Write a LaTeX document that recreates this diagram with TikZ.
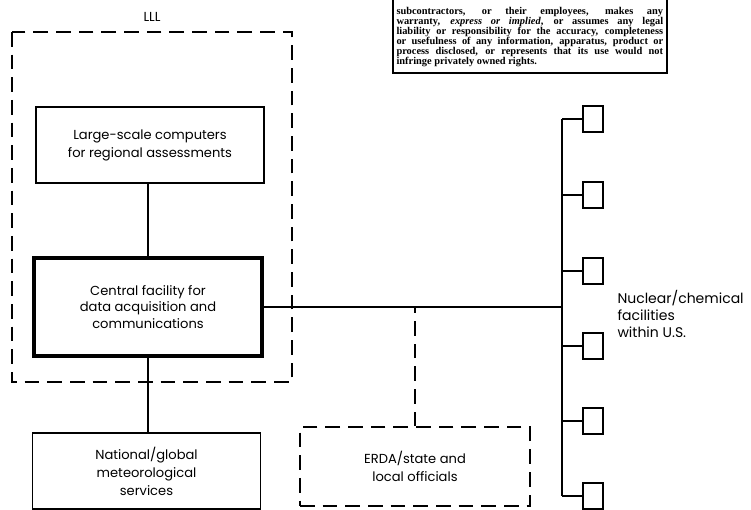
\documentclass[tikz,border=0pt]{standalone}
\usepackage{fontspec}
\setmainfont{Poppins}
\newfontfamily\noticefont{Liberation Serif}

\tikzset{every picture/.style={line width=0.75pt}}
\tikzset{
  unitbox/.style={draw, line width=1.4pt, minimum width=171pt, minimum height=57pt, align=center, font=\fontsize{9.8}{13.5}\selectfont, inner sep=0pt},
  centerbox/.style={unitbox, line width=2.4pt, minimum height=73.5pt, font=\fontsize{9.8}{12.3}\selectfont},
  dashbox/.style={unitbox, dash pattern=on 11pt off 6pt},
  sitebox/.style={draw, line width=1.4pt, minimum width=15pt, minimum height=19.5pt, inner sep=0pt},
  link/.style={line width=1.1pt},
  dashlink/.style={line width=1.3pt, dash pattern=on 11pt off 6pt},
  lbl/.style={font=\fontsize{10.5}{13}\selectfont, inner sep=0pt}
}

\begin{document}
\begin{tikzpicture}[x=0.75pt,y=0.75pt,yscale=-1,xscale=1]
	\useasboundingbox (0,0) rectangle (751,510);

	%Shape: Rectangle [notice, cut at the top]
	\draw [line width=1.5pt] (393,-10) -- (393,73) -- (667,73) -- (667,-10) ;
	% Text Node
	\node (notice) [anchor=north west, inner sep=0pt, text width=200pt, align=justify, font=\noticefont\fontsize{7.8}{7.5}\selectfont\bfseries] at (396,7)
	  {subcontractors, or their employees, makes any\linebreak
	   warranty, \textit{express or implied}, or assumes any legal\linebreak
	   liability or responsibility for the accuracy, completeness\linebreak
	   or usefulness of any information, apparatus, product or\linebreak
	   process disclosed, or represents that its use would not\linebreak
	   infringe privately owned rights.};

	%Shape: Dashed Rectangle [LLL]
	\draw [dashlink, line width=1.4pt] (12,32) rectangle (292,382) ;
	% Text Node
	\node (lll) [lbl, font=\fontsize{9.8}{12}\selectfont] at (152,17) {LLL};

	%Shape: Rectangle
	\node (computers) [unitbox] at (150,145) {Large-scale computers\\for regional assessments};
	%Shape: Rectangle
	\node (central) [centerbox] at (148,307) {Central facility for\\data acquisition and\\communications};
	%Shape: Rectangle
	\node (meteo) [unitbox] at (146.5,471) {National/global\\meteorological\\services};
	%Shape: Dashed Rectangle
	\node (erda) [dashbox, minimum width=172.5pt, minimum height=59pt] at (415,466.5) {ERDA/state and\\local officials};

	%Shape: Squares
	\node (site1) [sitebox] at (593,119) {};
	\node (site2) [sitebox] at (593,195) {};
	\node (site3) [sitebox] at (593,271) {};
	\node (site4) [sitebox] at (593,346) {};
	\node (site5) [sitebox] at (593,421) {};
	\node (site6) [sitebox] at (593,496) {};
	\coordinate (bustop) at (562,119) ;
	\coordinate (busbot) at (562,496) ;

	% Text Node
	\node (sites) [lbl, anchor=west, align=left] at (617,314) {Nuclear/chemical\\facilities\\within U.S.};

	%Straight Lines
	\draw [link] (computers.south -| central.north) -- (central.north) ;
	\draw [link] (central.south) -- (central.south |- meteo.north) ;
	\draw [link] (central.east) -- (central.east -| bustop) ;
	\draw [dashlink] (erda.north) -- (erda.north |- central.east) ;
	\draw [link] (bustop) -- (busbot) ;
	\draw [link] (bustop) -- (site1.west) ;
	\draw [link] (site2.west -| bustop) -- (site2.west) ;
	\draw [link] (site3.west -| bustop) -- (site3.west) ;
	\draw [link] (site4.west -| bustop) -- (site4.west) ;
	\draw [link] (site5.west -| bustop) -- (site5.west) ;
	\draw [link] (busbot) -- (site6.west) ;

\end{tikzpicture}
\end{document}
